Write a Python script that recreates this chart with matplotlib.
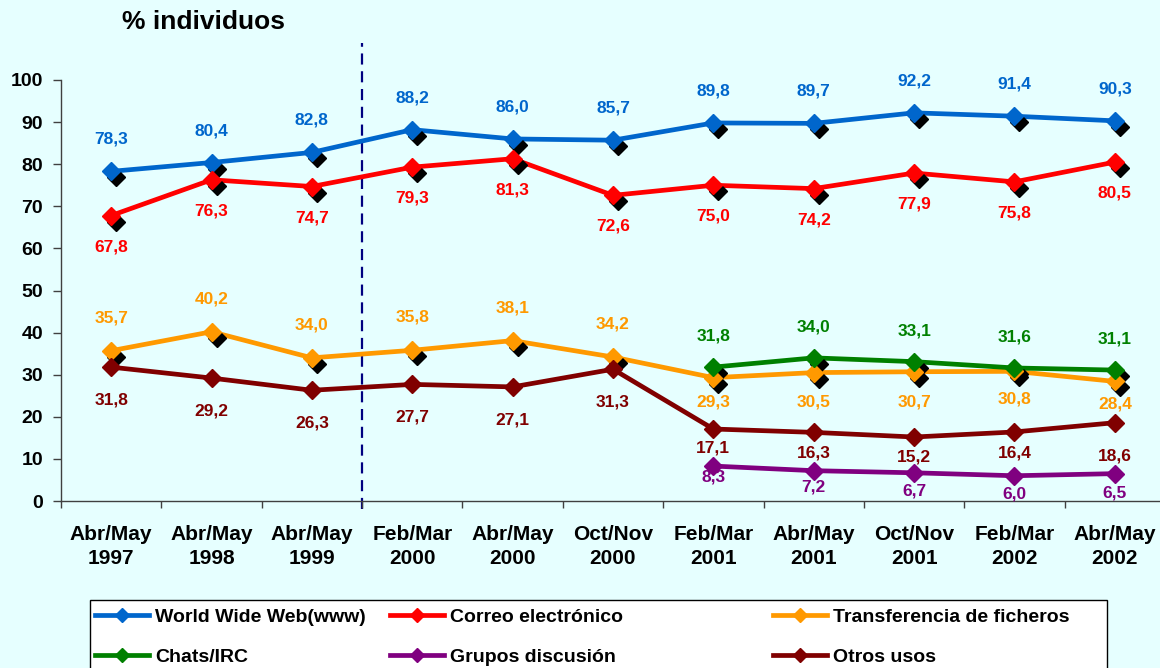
import matplotlib.pyplot as plt
import matplotlib.transforms as mtransforms
from matplotlib.patches import Rectangle
import numpy as np

plt.rcParams['font.family'] = ['Liberation Sans', 'DejaVu Sans']
plt.rcParams['font.weight'] = 'bold'

# Data
periods = ['Abr/May\n1997', 'Abr/May\n1998', 'Abr/May\n1999', 'Feb/Mar\n2000',
           'Abr/May\n2000', 'Oct/Nov\n2000', 'Feb/Mar\n2001', 'Abr/May\n2001',
           'Oct/Nov\n2001', 'Feb/Mar\n2002', 'Abr/May\n2002']
nan = np.nan
www = [78.3, 80.4, 82.8, 88.2, 86.0, 85.7, 89.8, 89.7, 92.2, 91.4, 90.3]
correo = [67.8, 76.3, 74.7, 79.3, 81.3, 72.6, 75.0, 74.2, 77.9, 75.8, 80.5]
ficheros = [35.7, 40.2, 34.0, 35.8, 38.1, 34.2, 29.3, 30.5, 30.7, 30.8, 28.4]
chats = [nan, nan, nan, nan, nan, nan, 31.8, 34.0, 33.1, 31.6, 31.1]
grupos = [nan, nan, nan, nan, nan, nan, 8.3, 7.2, 6.7, 6.0, 6.5]
otros = [31.8, 29.2, 26.3, 27.7, 27.1, 31.3, 17.1, 16.3, 15.2, 16.4, 18.6]

names = ['World Wide Web(www)', 'Correo electrónico', 'Transferencia de ficheros',
         'Chats/IRC', 'Grupos discusión', 'Otros usos']
series = [www, correo, ficheros, chats, grupos, otros]
colors = ['#0066CC', '#FF0000', '#FF9900', '#008000', '#800080', '#800000']
shadow = [True, True, True, True, False, False]

# label offsets in pixels (negative = above the point)
label_dy = [
    [-32] * 11,
    [31] * 11,
    [-33] * 6 + [24, 29, 30, 28, 23],
    [-31] * 11,
    [0] * 6 + [11, 16, 18, 18, 19],
    [33] * 6 + [19, 21, 20, 21, 33],
]

bg = '#E6FFFF'
fig = plt.figure(figsize=(11.6, 6.68), dpi=100, facecolor=bg)
ax = fig.add_axes([61 / 1160, 1 - 501 / 668, 1104 / 1160, 421 / 668])
ax.set_facecolor(bg)

x = np.arange(len(periods))
shadow_tr = mtransforms.offset_copy(ax.transData, fig=fig, x=5, y=-6, units='dots')

handles = []
for vals, name, c, sh, dys in zip(series, names, colors, shadow, label_dy):
    v = np.array(vals, dtype=float)
    ax.plot(x, v, color=c, lw=3.4, zorder=2, solid_capstyle='round')
    if sh:
        ax.plot(x, v, ls='none', marker='D', ms=9.5, color='black', zorder=3,
                transform=shadow_tr)
    ax.plot(x, v, ls='none', marker='D', ms=9.5, color=c, zorder=4)
    h, = ax.plot([], [], color=c, lw=3.4, marker='D', ms=7)
    handles.append(h)
    for xi, yi, dy in zip(x, v, dys):
        if np.isnan(yi):
            continue
        ax.annotate(f'{yi:.1f}'.replace('.', ','), (xi, yi),
                    xytext=(0, -dy * 0.72), textcoords='offset points',
                    ha='center', va='center', fontsize=12.5, color=c,
                    fontweight='bold', zorder=5)

# period break
ax.plot([2.5, 2.5], [-1.8, 108.8], color='#000080', lw=1.6, ls=(0, (5, 3)),
        clip_on=False, zorder=1)

ax.set_xlim(-0.5, len(periods) - 0.5)
ax.set_ylim(0, 100)
ax.set_yticks(np.arange(0, 101, 10))
ax.set_xticks(x)
ax.set_xticklabels(periods, fontsize=15, linespacing=1.35)
ax.set_xticks(np.arange(-0.5, len(periods), 1), minor=True)
ax.tick_params(axis='x', which='major', length=0, pad=17)
ax.tick_params(axis='x', which='minor', length=5, width=1, color='#404040')
ax.tick_params(axis='y', length=6, width=1, color='#404040', pad=7, labelsize=14)
for s in ['top', 'right']:
    ax.spines[s].set_visible(False)
for s in ['left', 'bottom']:
    ax.spines[s].set_color('#404040')
    ax.spines[s].set_linewidth(1)

fig.text(204 / 1160, 1 - 22 / 668, '% individuos', fontsize=19,
         fontweight='bold', ha='center', va='center')

# legend box running off the bottom edge, with three columns of entries
fig.patches.append(Rectangle((90 / 1160, -0.2), 1017 / 1160, 0.2 + 68 / 668,
                             transform=fig.transFigure, facecolor='white',
                             edgecolor='black', lw=1, zorder=0))
col_x = [95, 390, 773]
for k, cx in enumerate(col_x):
    idx = [k, k + 3]
    fig.legend([handles[i] for i in idx], [names[i] for i in idx],
               loc='upper left', bbox_to_anchor=(cx / 1160, 1 - 608 / 668),
               fontsize=14, frameon=False, handlelength=2.8,
               handletextpad=0.3, labelspacing=1.15, borderpad=0,
               borderaxespad=0)

fig.savefig('out.png', dpi=100, facecolor=bg)
